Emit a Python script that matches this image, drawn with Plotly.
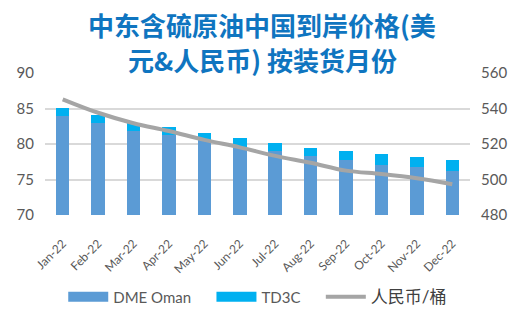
import plotly.graph_objects as go

months = ["Jan-22", "Feb-22", "Mar-22", "Apr-22", "May-22", "Jun-22",
          "Jul-22", "Aug-22", "Sep-22", "Oct-22", "Nov-22", "Dec-22"]
dme_oman = [83.9, 82.9, 81.8, 81.2, 80.5, 79.4, 79.0, 78.3, 77.7, 77.0, 76.7, 76.2]
td3c = [1.2, 1.2, 1.1, 1.2, 1.1, 1.5, 1.1, 1.1, 1.3, 1.55, 1.4, 1.55]
rmb = [545.2, 537.6, 531.7, 527.3, 522.3, 518.1, 513.3, 509.4, 505.0, 503.1, 500.7, 497.3]

title_lines = ["中东含硫原油中国到岸价格(美", "元&amp;人民币) 按装货月份"]

font_main = "Lato, 'Noto Sans CJK SC', sans-serif"
tick_color = "#595959"
c_dme = "#5B9BD5"
c_td3c = "#00B0F0"
c_line = "#A5A5A5"

fig = go.Figure()
fig.add_trace(go.Bar(x=months, y=dme_oman, name="DME Oman", showlegend=False,
                     marker=dict(color=c_dme, line=dict(width=0))))
fig.add_trace(go.Bar(x=months, y=td3c, name="TD3C", showlegend=False,
                     marker=dict(color=c_td3c, line=dict(width=0))))
fig.add_trace(go.Scatter(x=months, y=rmb, name="人民币/桶", yaxis="y2", showlegend=False,
                         mode="lines", line=dict(color=c_line, width=4, shape="spline")))

# legend-only entries (wide swatches like the reference)
fig.add_trace(go.Scatter(x=[None], y=[None], mode="lines",
                         name="DME Oman&nbsp;&nbsp;&nbsp;&nbsp;",
                         line=dict(color=c_dme, width=11)))
fig.add_trace(go.Scatter(x=[None], y=[None], mode="lines",
                         name="TD3C&nbsp;&nbsp;&nbsp;&nbsp;",
                         line=dict(color=c_td3c, width=11)))
fig.add_trace(go.Scatter(x=[None], y=[None], mode="lines",
                         name="<span style='font-size:17px;color:#404040'>人民币/桶</span>",
                         line=dict(color=c_line, width=4)))

fig.update_layout(
    width=526, height=325,
    margin=dict(l=45, r=56, t=73, b=110, autoexpand=False),
    paper_bgcolor="white", plot_bgcolor="white",
    barmode="stack", bargap=0.62,
    font=dict(family=font_main, color=tick_color),
    xaxis=dict(tickangle=-45, tickfont=dict(size=12, color=tick_color), automargin=False,
               showline=False, ticks="outside", ticklen=16, tickcolor="rgba(0,0,0,0)"),
    yaxis=dict(range=[70, 90], dtick=5, showgrid=True, gridcolor="#D9D9D9", gridwidth=1.5,
               tickfont=dict(size=15, color=tick_color), zeroline=False, ticks="",
               automargin=False, ticklabelstandoff=10),
    yaxis2=dict(range=[480, 560], dtick=20, overlaying="y", side="right", showgrid=False,
                tickfont=dict(size=15, color=tick_color), zeroline=False, ticks="",
                automargin=False, ticklabelstandoff=10),
    legend=dict(orientation="h", x=0.49, xanchor="center", xref="container",
                y=(325 - 297) / 325, yanchor="middle", yref="container",
                font=dict(size=15, color=tick_color), traceorder="normal",
                itemwidth=40, tracegroupgap=0),
)

title_y = [24, 60]
for txt, yy in zip(title_lines, title_y):
    fig.add_annotation(text="<b>" + txt + "</b>", xref="paper", yref="paper",
                       x=(262 - 45) / 425, y=1 + (73 - yy) / 142,
                       xanchor="center", yanchor="middle", showarrow=False,
                       font=dict(family="'Noto Sans CJK SC', sans-serif", size=26, color="#0F75C0"))

fig.write_html("out.html")
